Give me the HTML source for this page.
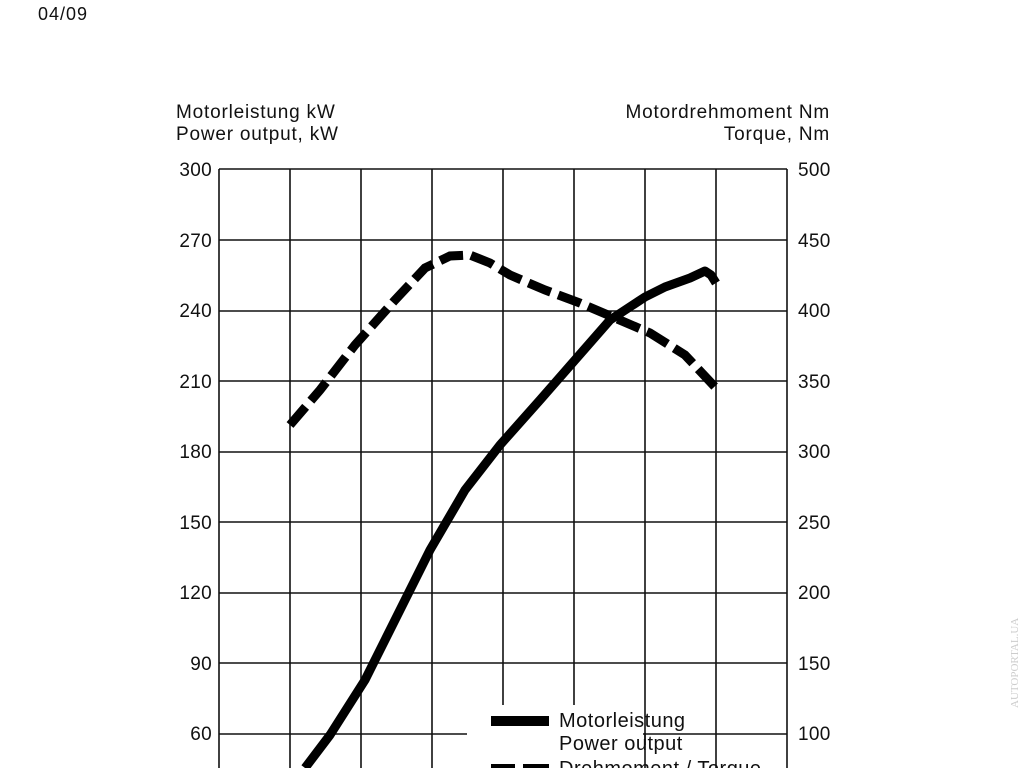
<!DOCTYPE html>
<html><head><style>
body{margin:0;width:1024px;height:768px;background:#fff;overflow:hidden;font-family:"Liberation Sans",sans-serif}
</style></head><body>
<svg width="1024" height="768" xmlns="http://www.w3.org/2000/svg" style="position:absolute;left:0;top:0">
<g font-family="Liberation Sans, sans-serif" font-size="19" fill="#111" letter-spacing="0.8">
<text x="38" y="20" font-size="18" letter-spacing="1">04/09</text>
<text x="176" y="118">Motorleistung kW</text>
<text x="176" y="140">Power output, kW</text>
<text x="830" y="118" text-anchor="end">Motordrehmoment Nm</text>
<text x="830" y="140" text-anchor="end">Torque, Nm</text>
</g>
<g font-family="Liberation Sans, sans-serif" font-size="19" fill="#111" letter-spacing="0.3">
<g text-anchor="end">
<text x="212" y="176">300</text><text x="212" y="247">270</text><text x="212" y="317">240</text><text x="212" y="388">210</text><text x="212" y="458">180</text><text x="212" y="529">150</text><text x="212" y="599">120</text><text x="212" y="670">90</text><text x="212" y="740">60</text>
</g>
<g>
<text x="798" y="176">500</text><text x="798" y="247">450</text><text x="798" y="317">400</text><text x="798" y="388">350</text><text x="798" y="458">300</text><text x="798" y="529">250</text><text x="798" y="599">200</text><text x="798" y="670">150</text><text x="798" y="740">100</text>
</g>
</g>
<g stroke="#111" stroke-width="1.6" fill="none">
<line x1="219" y1="169" x2="219" y2="768"/><line x1="787" y1="169" x2="787" y2="768"/>
<line x1="290" y1="169" x2="290" y2="768"/><line x1="361" y1="169" x2="361" y2="768"/><line x1="432" y1="169" x2="432" y2="768"/><line x1="503" y1="169" x2="503" y2="768"/><line x1="574" y1="169" x2="574" y2="768"/><line x1="645" y1="169" x2="645" y2="768"/><line x1="716" y1="169" x2="716" y2="768"/>
<line x1="219" y1="169" x2="787" y2="169"/><line x1="219" y1="240" x2="787" y2="240"/><line x1="219" y1="311" x2="787" y2="311"/><line x1="219" y1="381" x2="787" y2="381"/><line x1="219" y1="452" x2="787" y2="452"/><line x1="219" y1="522" x2="787" y2="522"/><line x1="219" y1="593" x2="787" y2="593"/><line x1="219" y1="663" x2="787" y2="663"/><line x1="219" y1="734" x2="787" y2="734"/>
</g>
<rect x="467" y="705" width="176" height="63" fill="#fff"/>
<rect x="643" y="705" width="33" height="28" fill="#fff"/>
<line x1="645" y1="705" x2="645" y2="745" stroke="#111" stroke-width="1.6"/>
<path d="M305,768 L330,735 L365,680 L400,610 L430,550 L465,490 L500,445 L540,400 L575,360 L610,320 L645,297 L665,287 L690,278 L705,271 L711,275 L716,283" stroke="#000" stroke-width="9" fill="none" stroke-linejoin="round"/>
<path d="M290,425 L320,390 L355,345 L395,300 L425,268 L450,256 L470,255 L490,263 L510,275 L545,290 L580,303 L615,318 L650,333 L685,355 L716,388" stroke="#000" stroke-width="9" fill="none" stroke-dasharray="24,8"/>
<rect x="491" y="716" width="58" height="10" fill="#000"/>
<rect x="491" y="764" width="24" height="10" fill="#000"/><rect x="523" y="764" width="26" height="10" fill="#000"/>
<g font-family="Liberation Sans, sans-serif" font-size="20" fill="#111" letter-spacing="0.5">
<text x="559" y="727">Motorleistung</text>
<text x="559" y="750">Power output</text>
<text x="559" y="775">Drehmoment / Torque</text>
</g>
<text transform="translate(1018,708) rotate(-90)" font-family="Liberation Serif, serif" font-size="11" fill="#ccc">AUTOPORTAL.UA</text>
</svg>
</body></html>
